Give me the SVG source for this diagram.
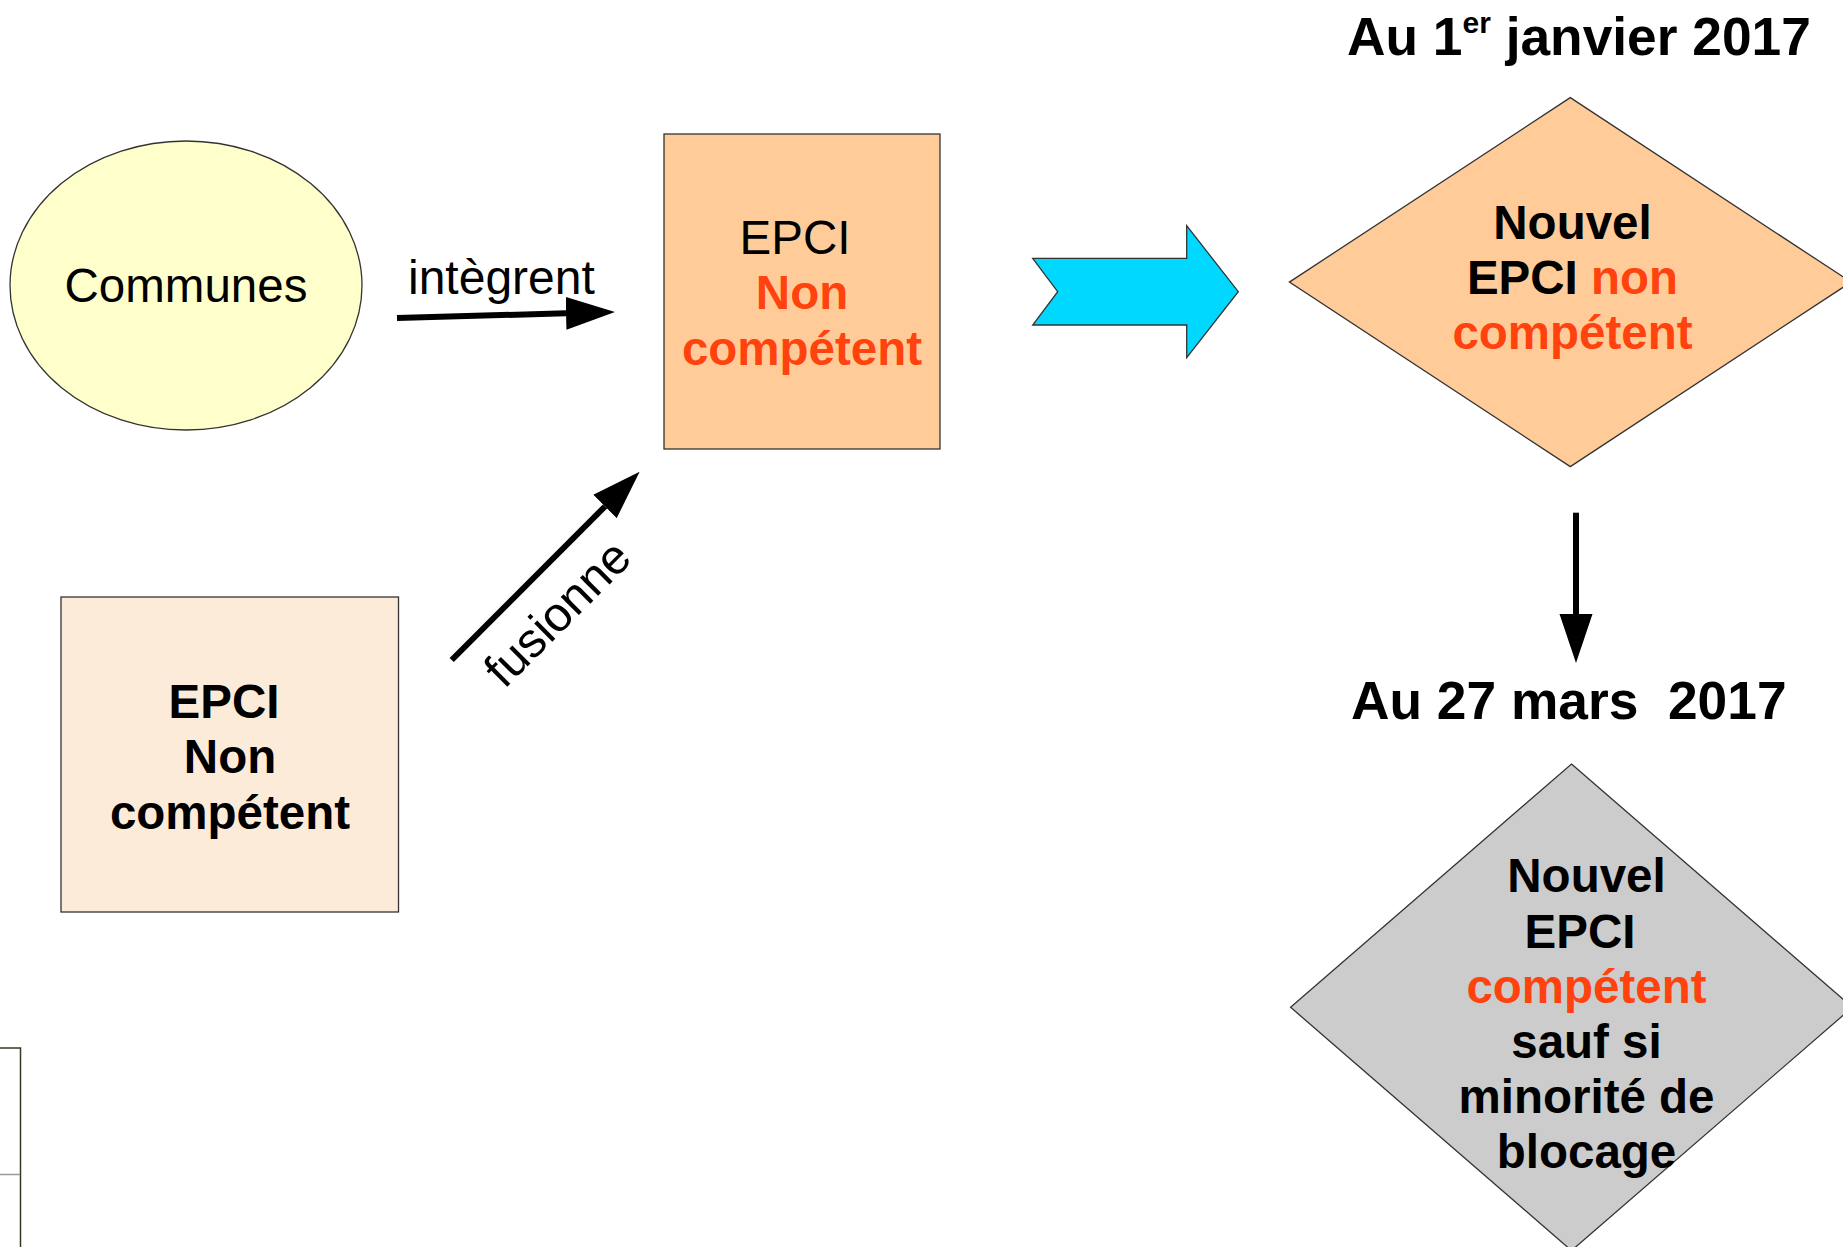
<svg xmlns="http://www.w3.org/2000/svg" width="1843" height="1247" viewBox="0 0 1843 1247">
  <defs>
    <style>
      text { font-family: "Liberation Sans", Arial, sans-serif; }
      .reg { font-size: 47.5px; fill: #000; }
      .bold { font-size: 47.5px; font-weight: bold; fill: #000; }
      .red { fill: #FF420E; }
      .title { font-size: 53.3px; font-weight: bold; fill: #000; }
      .mid { text-anchor: middle; }
      .shape { stroke: #333; stroke-width: 1.3; }
      .conn { stroke: #000; stroke-width: 6; fill: none; }
    </style>
    <marker id="head" viewBox="0 -17 49 34" markerWidth="49" markerHeight="34" refX="0" refY="0" orient="auto" markerUnits="userSpaceOnUse">
      <path d="M0,-16.5 L49,0 L0,16.5 Z" fill="#000"/>
    </marker>
  </defs>
  <rect x="0" y="0" width="1843" height="1247" fill="#fff"/>

  <g id="communes">
    <ellipse class="shape" cx="186" cy="285.5" rx="176" ry="144.5" fill="#FFFFCC"/>
    <text class="reg mid" x="186" y="302">Communes</text>
  </g>

  <g id="epci-non-competent">
    <rect class="shape" x="664" y="134" width="276" height="315" fill="#FFCC99"/>
    <text class="reg mid" x="795" y="254">EPCI</text>
    <text class="bold mid red" x="802" y="309">Non</text>
    <text class="bold mid red" x="802" y="365">compétent</text>
  </g>

  <g id="epci-source">
    <rect class="shape" x="61" y="597" width="337.5" height="315" fill="#FDEBDA"/>
    <text class="bold mid" x="224" y="718">EPCI</text>
    <text class="bold mid" x="230" y="773">Non</text>
    <text class="bold mid" x="230" y="829">compétent</text>
  </g>

  <g id="big-arrow">
    <polygon class="shape" points="1032.7,258.3 1186.7,258.3 1186.7,225.7 1238.3,291.7 1186.7,357.7 1186.7,325 1032.7,325 1057.7,291.7" fill="#00D8FF"/>
  </g>

  <g id="title-janvier">
    <text class="title" x="1347" y="55">Au 1<tspan font-size="30" y="33">er</tspan><tspan y="55"> janvier 2017</tspan></text>
  </g>

  <g id="nouvel-epci-non-competent">
    <polygon class="shape" points="1570.3,97.6 1851,282.1 1570.3,466.6 1289.4,282.1" fill="#FFCC99"/>
    <text class="bold mid" x="1572.5" y="239">Nouvel</text>
    <text class="bold mid" x="1572.5" y="294">EPCI <tspan class="red">non</tspan></text>
    <text class="bold mid red" x="1572.5" y="349">compétent</text>
  </g>

  <g id="title-mars">
    <text class="title" x="1351" y="719" style="font-size:53.3px;white-space:pre">Au 27 mars  2017</text>
  </g>

  <g id="nouvel-epci-competent">
    <polygon class="shape" points="1571.5,764 1852.4,1007.3 1571.5,1250.6 1290.6,1007.3" fill="#CCCCCC"/>
    <text class="bold mid" x="1586.5" y="892">Nouvel</text>
    <text class="bold mid" x="1580" y="947.5">EPCI</text>
    <text class="bold mid red" x="1586.5" y="1003">compétent</text>
    <text class="bold mid" x="1586.5" y="1058">sauf si</text>
    <text class="bold mid" x="1586.5" y="1113">minorité de</text>
    <text class="bold mid" x="1586.5" y="1168">blocage</text>
  </g>

  <g id="frame-fragment">
    <path d="M0,1048 H20.5 V1247" fill="none" stroke="#3b3526" stroke-width="1.5"/>
    <line x1="0" y1="1174.5" x2="20" y2="1174.5" stroke="#999" stroke-width="1.5"/>
  </g>

  <g id="connectors">
    <line class="conn" x1="397" y1="318" x2="566" y2="313.3" marker-end="url(#head)"/>
    <text style="font-size:48px" x="408" y="294">intègrent</text>
    <line class="conn" x1="451.7" y1="660" x2="605" y2="506.5" marker-end="url(#head)"/>
    <text class="mid" style="font-size:48.5px" x="569" y="625" transform="rotate(-45 569 625)">fusionne</text>
    <line class="conn" x1="1576" y1="512.7" x2="1576" y2="614" marker-end="url(#head)"/>
  </g>
</svg>
